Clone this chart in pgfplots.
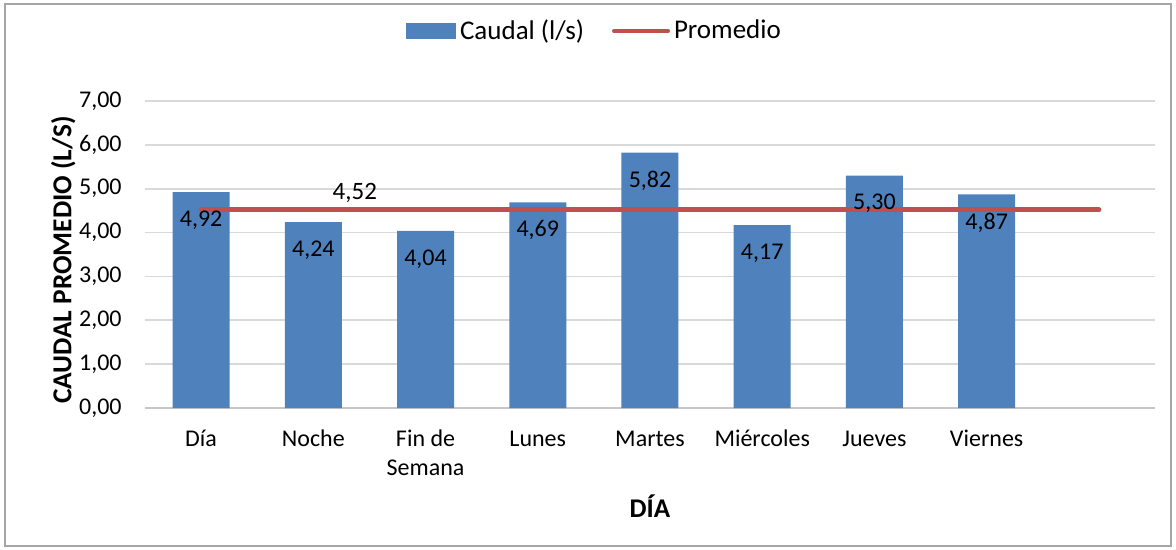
\documentclass[border=0pt]{standalone}
\usepackage{pgfplots}
\pgfplotsset{compat=1.18}
\usepackage{fontspec}
\setmainfont{Carlito}
\definecolor{barblue}{HTML}{4F81BD}
\definecolor{linered}{HTML}{C0504D}
\definecolor{gridgray}{HTML}{D9D9D9}
\begin{document}
\fontsize{12bp}{14.5bp}\selectfont
\begin{tikzpicture}
\useasboundingbox (-72.5bp,-71bp) rectangle (515.5bp,204bp);
\draw[gray!70, line width=0.6bp] (-70bp,-69bp) rectangle (513bp,202bp);
\begin{axis}[
  at={(0,0)}, anchor=south west,
  scale only axis, width=505bp, height=153.5bp,
  xmin=-0.5, xmax=8.5, ymin=0, ymax=7,
  xtick={0,...,8},
  xticklabels={Día,Noche,{\begin{tabular}[t]{@{}c@{}}Fin de\\Semana\end{tabular}},Lunes,Martes,Miércoles,Jueves,Viernes,{}},
  ytick={0,1,...,7},
  /pgf/number format/.cd, fixed, fixed zerofill, precision=2, use comma, assume math mode=true,
  /pgfplots/.cd,
  major tick length=0pt,
  ymajorgrids, grid style={gridgray, line width=0.8bp},
  separate axis lines,
  axis x line*=bottom, axis y line*=left,
  x axis line style={gridgray!80!gray, line width=0.8bp, -},
  y axis line style={draw=none},
  tick label style={font=\fontsize{12bp}{14.5bp}\selectfont},
  xticklabel style={anchor=base, yshift=-19bp},
  yticklabel style={xshift=-7.5bp},
  xlabel={\bfseries DÍA},
  ylabel={\bfseries CAUDAL PROMEDIO (L/S)},
  xlabel style={at={(axis description cs:0.5,-0.32)}, anchor=center, font=\fontsize{13.5bp}{15bp}\selectfont},
  ylabel style={at={(axis description cs:-0.081,0.482)}, anchor=center, rotate=0, font=\fontsize{13.7bp}{15bp}\selectfont},
  legend style={at={(0.446,1.228)}, anchor=center, draw=none, legend columns=2,
    font=\fontsize{13.5bp}{15bp}\selectfont,
    /tikz/every even column/.append style={column sep=12bp}},
  clip=false,
]
\addplot[ybar, bar width=28.5bp, fill=barblue, draw=none,
  nodes near coords,
  every node near coord/.append style={anchor=center, yshift=-14bp, text=black, font=\fontsize{12bp}{14.5bp}\selectfont},
  legend image code/.code={\fill[barblue] (0bp,-3.75bp) rectangle (25bp,3.75bp);}]
  coordinates {(0,4.92) (1,4.24) (2,4.04) (3,4.69) (4,5.82) (5,4.17) (6,5.30) (7,4.87)};
\addlegendentry{Caudal (l/s)}
\addplot[linered, line width=2.5bp, line cap=round, mark=none,
  legend image code/.code={\draw[linered, line width=2bp, line cap=round] (0bp,0bp) -- (27bp,0bp);}]
  coordinates {(0,4.52) (1,4.52) (2,4.52) (3,4.52) (4,4.52) (5,4.52) (6,4.52) (7,4.52) (8,4.52)};
\addlegendentry{Promedio}
\node[font=\fontsize{12.5bp}{14.5bp}\selectfont] at (axis cs:1.37,4.90) {4,52};
\end{axis}
\end{tikzpicture}
\end{document}
